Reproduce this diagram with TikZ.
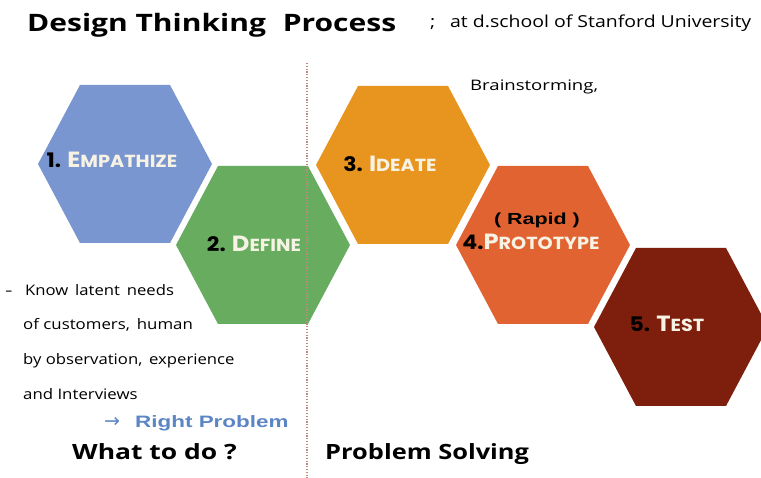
\documentclass[tikz,border=0pt]{standalone}
\usepackage{fontspec}
\setmainfont{Open Sans}
\newfontfamily\hexfont{Poppins}
\newfontfamily\heavyfont{Liberation Sans}
\newfontfamily\symfont{DejaVu Sans}
\definecolor{hblue}{HTML}{7A96D0}
\definecolor{hgreen}{HTML}{67AC5F}
\definecolor{horange}{HTML}{E8951F}
\definecolor{hred}{HTML}{E26332}
\definecolor{hdark}{HTML}{7E1E0C}
\definecolor{hcream}{HTML}{F6F2E4}
\definecolor{rpblue}{HTML}{5B85C5}
\definecolor{dotline}{HTML}{BF8A7E}
\newcommand\hexa[3]{\fill[#3] (#1-87,#2) -- (#1-45,#2-79) -- (#1+45,#2-79) -- (#1+87,#2) -- (#1+45,#2+79) -- (#1-45,#2+79) -- cycle;}
\newcommand\scp[2]{{\fontsize{22}{22}\selectfont #1}{\fontsize{17.5}{17.5}\selectfont #2}}
\newcommand\hx[1]{\scalebox{1.1}[1]{#1}}
\tikzset{
  hexlabel/.style={inner sep=0pt, anchor=base, font=\hexfont\bfseries\fontsize{20}{20}\selectfont, text=hcream},
  body/.style={inner sep=0pt, anchor=base west, font=\fontsize{14.5}{14.5}\selectfont},
  heading/.style={inner sep=0pt, anchor=base west, font=\bfseries\fontsize{21}{21}\selectfont},
}
\begin{document}
\begin{tikzpicture}[x=1pt,y=-1pt]
\useasboundingbox (0,0) rectangle (761,478);
\fill[white] (0,0) rectangle (761,478);
% hexagons
\hexa{125}{164}{hblue}
\hexa{263}{245}{hgreen}
\hexa{403}{165}{horange}
\hexa{543}{245}{hred}
\hexa{681}{327}{hdark}
% divider
\coordinate (dtop) at (307,63);
\coordinate (dbot) at (307,478);
\draw[dotline, line width=1.1pt, dash pattern=on 1.2pt off 1.6pt] (dtop) -- (dbot);
% hex labels
\node[hexlabel] (l1) at (112,168) {\hx{\textcolor{black}{1.} \scp{E}{MPATHIZE}}};
\node[hexlabel] (l2) at (254,252) {\hx{\textcolor{black}{2.} \scp{D}{EFINE}}};
\node[hexlabel] (l3) at (390,172) {\hx{\textcolor{black}{3.} \scp{I}{DEATE}}};
\node[inner sep=0pt, anchor=base, font=\heavyfont\bfseries\fontsize{16}{16}\selectfont] (rapid) at (537,225) {\scalebox{1.34}[1]{( Rapid )}};
\node[hexlabel] (l4) at (531,250) {\hx{\textcolor{black}{4.}\scp{P}{ROTOTYPE}}};
\node[hexlabel] (l5) at (667,332) {\hx{\textcolor{black}{5.} \scp{T}{EST}}};
% titles
\node[inner sep=0pt, anchor=base west, font=\bfseries\fontsize{24}{24}\selectfont] (title) at (27,32) {\scalebox{1.25}[1]{Design Thinking\hspace{0.3em} Process}};
\node[inner sep=0pt, anchor=base west, font=\fontsize{16.5}{16.5}\selectfont] (sub) at (430,28) {\scalebox{1.18}[1]{;\hspace{0.5em} at d.school of Stanford University}};
\node[body] (brain) at (470,91) {\scalebox{1.28}[1]{Brainstorming,}};
% left notes
\node[body] (dash) at (5,296) {\scalebox{1.6}[1]{-}};
\node[body] (n1) at (25,296) {\scalebox{1.15}[1]{Know\hspace{0.15em} latent\hspace{0.15em} needs}};
\node[body] (n2) at (23,330) {\scalebox{1.16}[1]{of customers,\hspace{0.15em} human}};
\node[body] (n3) at (23,365) {\scalebox{1.15}[1]{by observation,\hspace{0.15em} experience}};
\node[body] (n4) at (23,400) {\scalebox{1.16}[1]{and Interviews}};
\node[inner sep=0pt, anchor=base west, font=\symfont\fontsize{19}{19}\selectfont, text=rpblue] (arr) at (104,428) {→};
\node[inner sep=0pt, anchor=base west, font=\heavyfont\bfseries\fontsize{16.5}{16.5}\selectfont, text=rpblue] (rp) at (135,428) {\scalebox{1.36}[1]{Right Problem}};
\node[heading] (what) at (72,460) {\scalebox{1.26}[1]{What to do ?}};
\node[heading] (solve) at (325,460) {\scalebox{1.21}[1]{Problem Solving}};
\end{tikzpicture}
\end{document}
